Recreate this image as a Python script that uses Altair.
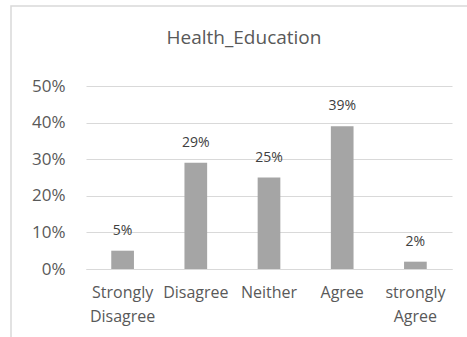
import altair as alt
import pandas as pd

# Survey responses for the Health_Education item
categories = ["Strongly Disagree", "Disagree", "Neither", "Agree", "strongly Agree"]
shares = [0.05, 0.29, 0.25, 0.39, 0.02]
y_ticks = [0.0, 0.1, 0.2, 0.3, 0.4, 0.5]

df = pd.DataFrame({"response": categories, "share": shares})

FONT = "Open Sans"
TEXT = "#595959"
GRID = "#d9d9d9"

x_enc = alt.X(
    "response:N",
    sort=categories,
    title=None,
    scale=alt.Scale(paddingInner=0.69, paddingOuter=0.345),
    axis=alt.Axis(
        labelAngle=0,
        labelExpr="split(datum.label, ' ')",
        labelLineHeight=24,
        labelFontSize=16,
        labelColor=TEXT,
        labelFont=FONT,
        labelPadding=15,
        ticks=False,
        domain=True,
        domainColor=GRID,
        labelLimit=200,
        labelOverlap=False,
    ),
)
y_enc = alt.Y(
    "share:Q",
    title=None,
    scale=alt.Scale(domain=[0, 0.5], nice=False),
    axis=alt.Axis(
        values=y_ticks,
        format=".0%",
        labelFontSize=17,
        labelColor=TEXT,
        labelFont=FONT,
        labelPadding=21,
        labelOverlap=False,
        ticks=False,
        domain=False,
        grid=True,
        gridColor=GRID,
        gridWidth=1,
    ),
)

bars = alt.Chart(df).mark_bar(color="#a5a5a5").encode(x=x_enc, y=y_enc)

labels = alt.Chart(df).mark_text(
    dy=-16, baseline="alphabetic", fontSize=14, font=FONT, color="#404040"
).encode(
    x=x_enc,
    y=y_enc,
    text=alt.Text("share:Q", format=".0%"),
)

# light outline of the chart area
frame = alt.Chart(pd.DataFrame({"k": [0]})).mark_rect(
    fill=None, stroke=GRID, strokeWidth=1.5
).encode(
    x=alt.value(-75), x2=alt.value(420),
    y=alt.value(-80), y2=alt.value(300),
)

chart = alt.layer(frame, bars, labels).properties(
    width=366,
    height=183,
    background="white",
    title=alt.TitleParams(
        "Health_Education",
        font=FONT,
        fontSize=19,
        fontWeight="normal",
        color=TEXT,
        anchor="middle",
        frame="group",
        dx=-25,
        offset=0,
        dy=43,
    ),
    autosize=alt.AutoSizeParams(type="none"),
    padding={"left": 86, "top": 86, "right": 15, "bottom": 68},
).configure_view(strokeWidth=0)

chart.save("out.html", embed_options={"renderer": "svg", "actions": False})
